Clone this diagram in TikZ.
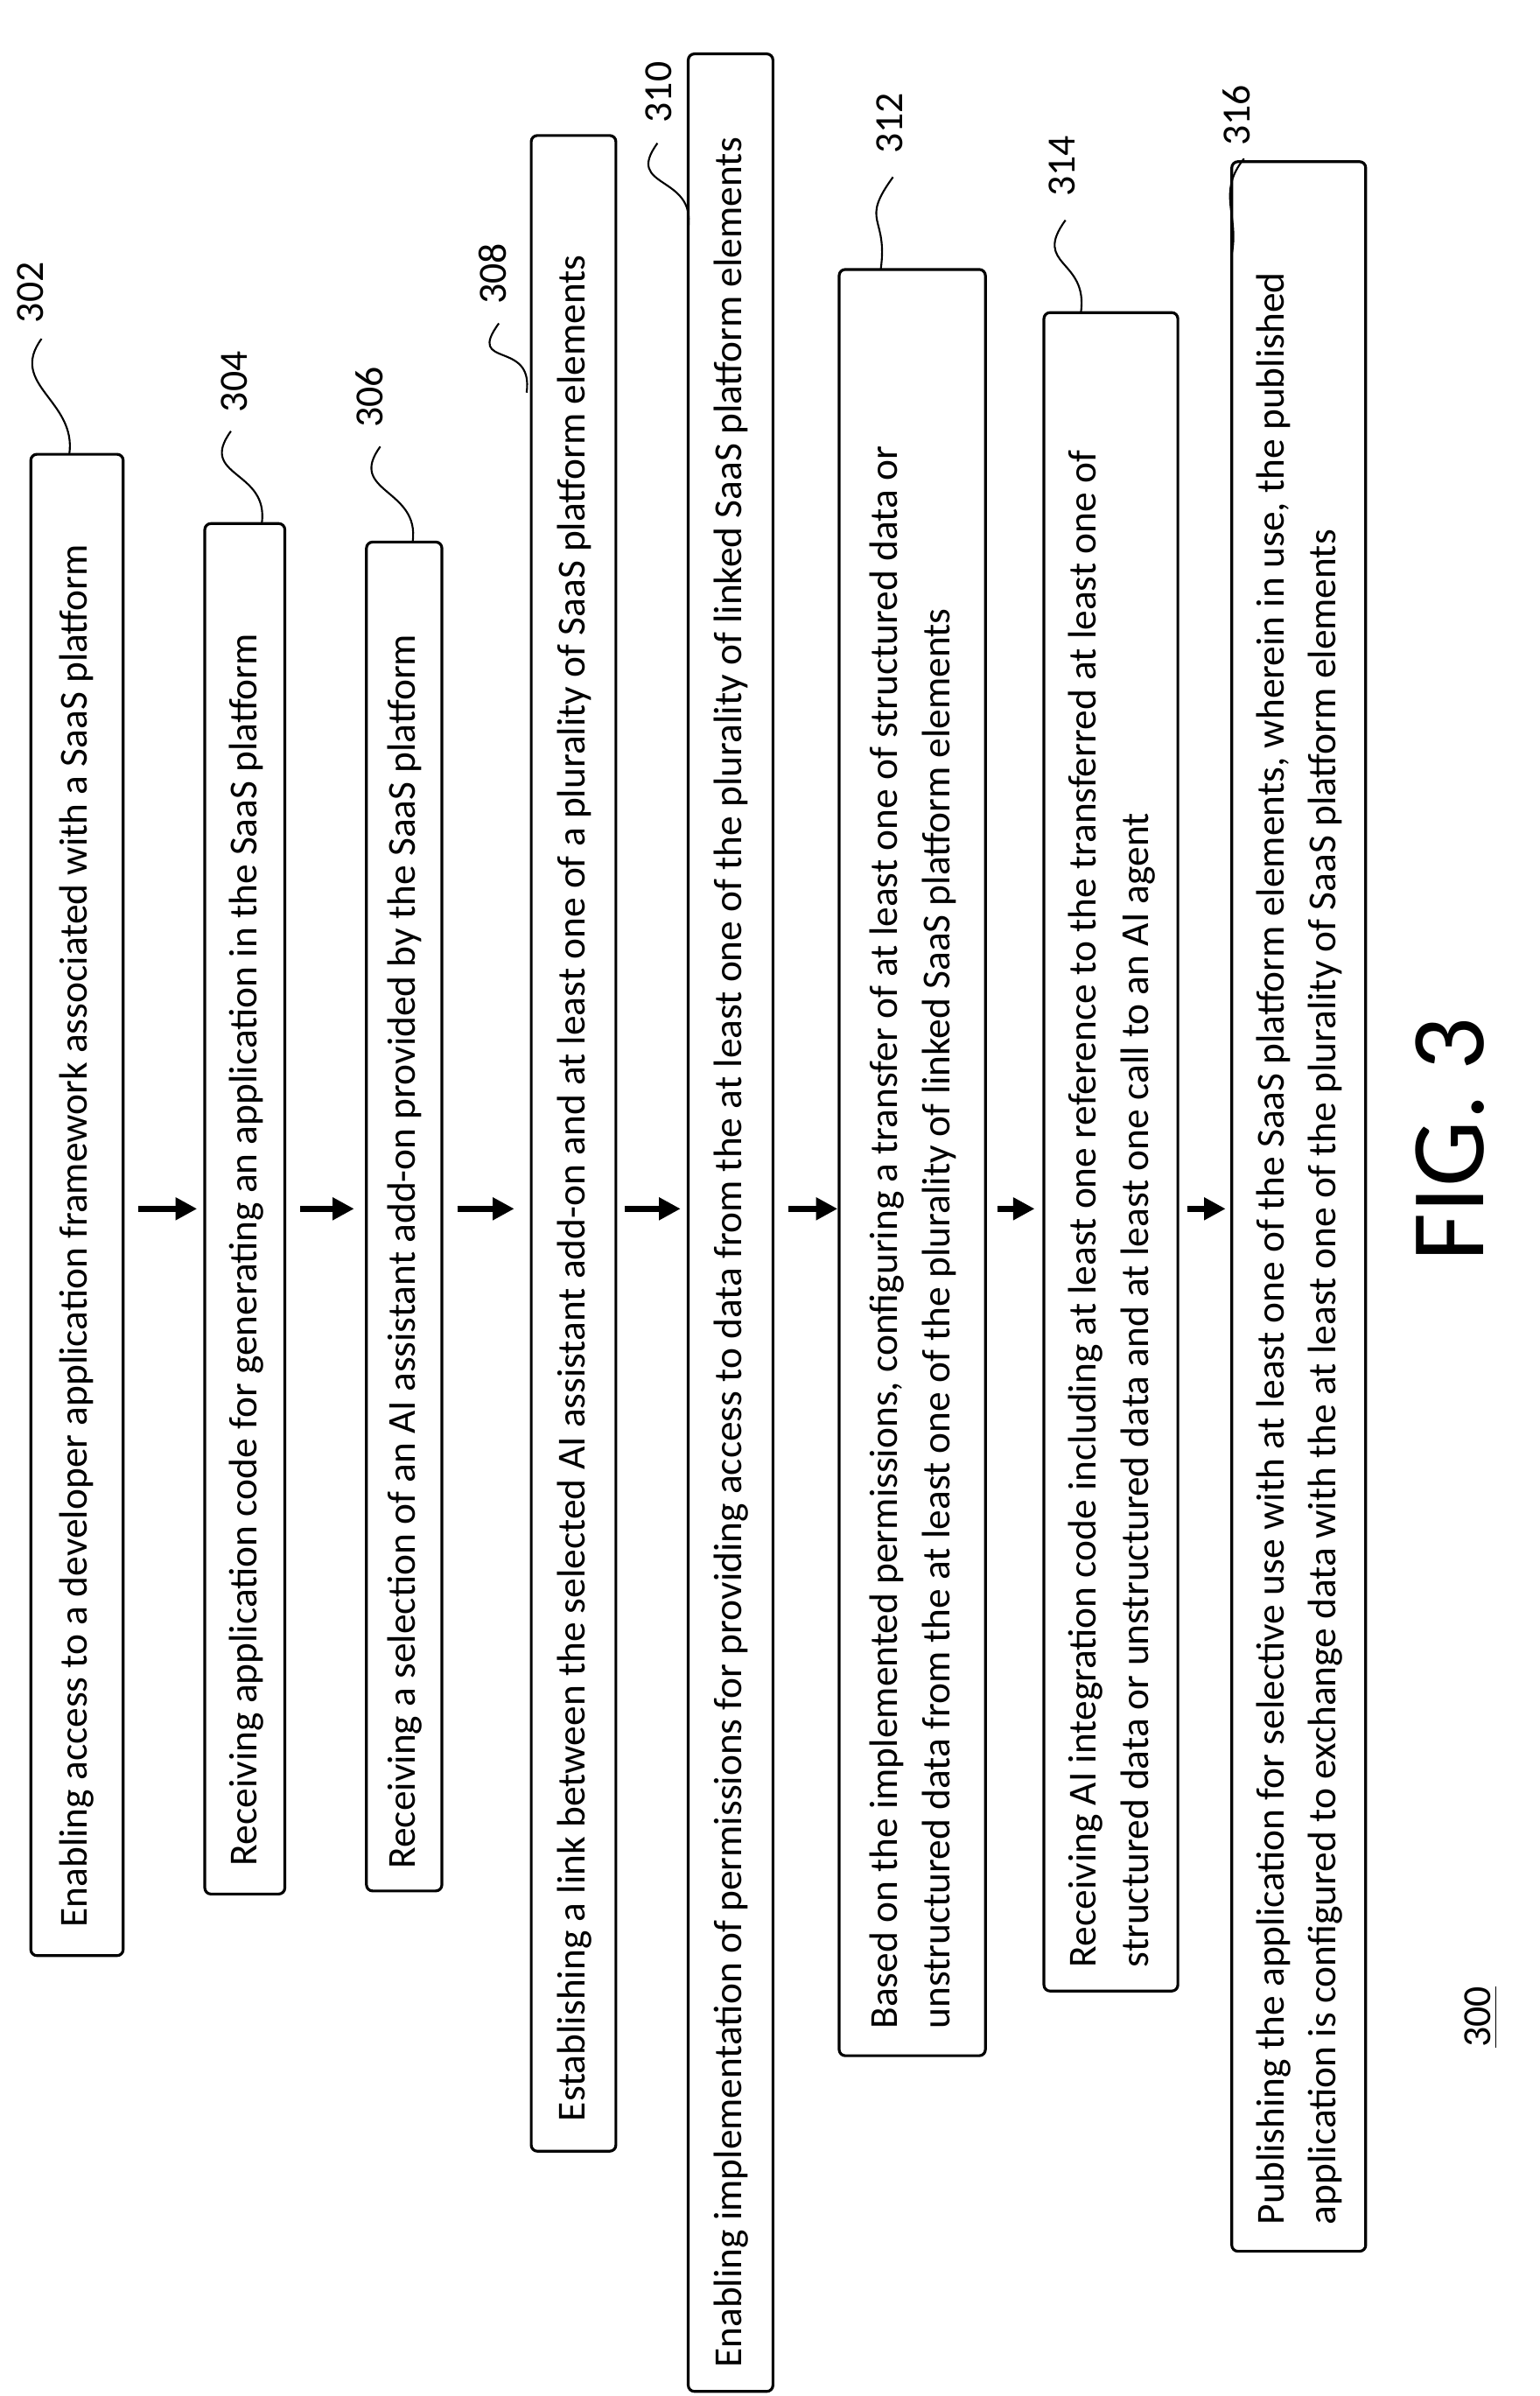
\documentclass[tikz,border=0pt]{standalone}
\usepackage{fontspec}
\setmainfont{Carlito}
\usetikzlibrary{arrows.meta}
\begin{document}
\begin{tikzpicture}[x=0.5pt,y=-0.5pt,
  stepbox/.style={draw,line width=0.9pt,rounded corners=2pt},
  txt/.style={rotate=90,anchor=west,align=left,font=\fontsize{12.9}{17}\selectfont,inner sep=0pt},
  lbl/.style={rotate=90,font=\fontsize{13}{15}\selectfont},
  lead/.style={line width=0.6pt},
  arr/.style={-{Triangle[length=7pt,width=7pt]},line width=2pt}]
\useasboundingbox (0,0) rectangle (1000,1556);
\draw[stepbox] (20,295) rectangle (80,1270);
\draw[stepbox] (133,340) rectangle (185,1230);
\draw[stepbox] (238,352) rectangle (287,1228);
\draw[stepbox] (345,88) rectangle (400,1397);
\draw[stepbox] (447,35) rectangle (502,1553);
\draw[stepbox] (545,175) rectangle (640,1335);
\draw[stepbox] (678,203) rectangle (765,1293);
\draw[stepbox] (800,105) rectangle (887,1462);
\node[txt] (t302) at (50,1252) {Enabling access to a developer application framework associated with a SaaS platform};
\node[txt] (t304) at (160,1212) {Receiving application code for generating an application in the SaaS platform};
\node[txt] (t306) at (263,1214) {Receiving a selection of an AI assistant add-on provided by the SaaS platform};
\node[txt] (t308) at (373,1378) {Establishing a link between the selected AI assistant add-on and at least one of a plurality of SaaS platform elements};
\node[txt] (t310) at (475,1538) {Enabling implementation of permissions for providing access to data from the at least one of the plurality of linked SaaS platform elements};
\node[txt] (t312) at (593,1318) {Based on the implemented permissions, configuring a transfer of at least one of structured data or\\unstructured data from the at least one of the plurality of linked SaaS platform elements};
\node[txt] (t314) at (722,1278) {Receiving AI integration code including at least one reference to the transferred at least one of\\structured data or unstructured data and at least one call to an AI agent};
\node[txt] (t316) at (844,1445) {Publishing the application for selective use with at least one of the SaaS platform elements, wherein in use, the published\\application is configured to exchange data with the at least one of the plurality of SaaS platform elements};
\foreach \a/\b in {90/128,195/230,297/334,406/442,512/544,648/672,771/796}{
  \draw[arr] (\a,785) -- (\b,785);}
\node[lbl] (l302) at (20,190) {302};
\node[lbl] (l304) at (152,248) {304};
\node[lbl] (l306) at (240,258) {306};
\node[lbl] (l308) at (320,178) {308};
\node[lbl] (l310) at (428,60) {310};
\node[lbl] (l312) at (578,80) {312};
\node[lbl] (l314) at (690,108) {314};
\node[lbl] (l316) at (803,75) {316};
\foreach \x/\y/\lx/\ly in {45/295/25/215, 170/340/148/275, 268/352/245/285, 342/255/322/205, 447/148/425/88, 572/175/578/110, 702/203/690/138}{
  \draw[lead] (\x,\y) .. controls (\x+5,\y-35) and (\lx-20,\ly+35) .. (\lx+2,\ly+5);}
\draw[lead] (800,165) .. controls (805,140) and (790,125) .. (808,103);
\node[rotate=90,font=\fontsize{34}{40}\selectfont] (fig) at (942,740) {FIG. 3};
\node[rotate=90,font=\fontsize{13}{15}\selectfont] (n300) at (962,1310) {\underline{300}};
\end{tikzpicture}
\end{document}
